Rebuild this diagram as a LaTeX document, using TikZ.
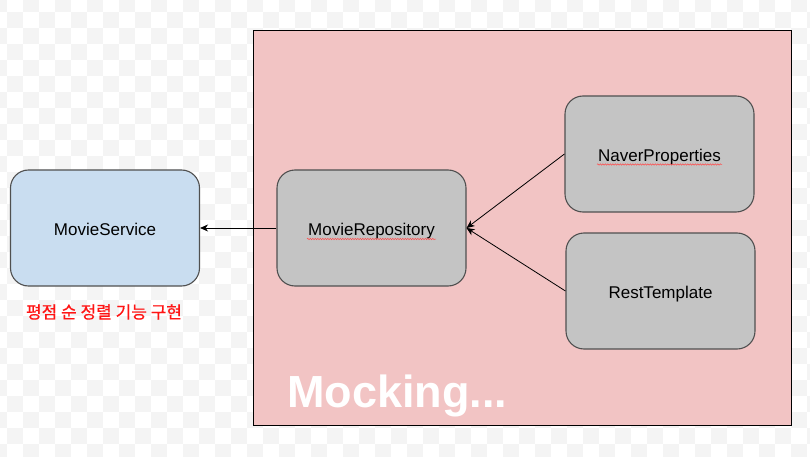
\documentclass[tikz,border=0pt]{standalone}
\usepackage{fontspec}
\setmainfont{Liberation Sans}
\newfontfamily\krfont[FakeBold=0.6]{Noto Sans CJK KR}
\usetikzlibrary{arrows.meta,decorations.pathmorphing,calc}
\definecolor{checkgray}{RGB}{244,244,244}
\definecolor{mockpink}{RGB}{242,196,196}
\definecolor{svcblue}{RGB}{201,221,240}
\definecolor{boxgray}{RGB}{196,196,196}
\definecolor{boxborder}{RGB}{80,80,80}
\definecolor{krred}{RGB}{255,20,20}
\tikzset{
  cls/.style={draw=boxborder, line width=1.1pt, rounded corners=18pt,
    minimum width=189pt, minimum height=116pt, inner sep=0pt,
    text height=14pt, text depth=0pt,
    font=\fontsize{17}{20}\selectfont},
  dep/.style={draw=black, line width=0.8pt, -{Stealth[length=8pt,width=7pt,inset=2.5pt]}},
  squig/.style={draw=red!70, line width=0.5pt, decorate,
    decoration={snake, segment length=2.5pt, amplitude=0.7pt}}
}
\begin{document}
\begin{tikzpicture}[x=1pt,y=-1pt]
\useasboundingbox (0,0) rectangle (810,457);
\begin{scope}
\clip (0,0) rectangle (810,457);
\fill[white] (0,0) rectangle (810,457);
\foreach \r in {0,...,29} {
  \pgfmathtruncatemacro\off{mod(\r,2)}
  \foreach \c in {0,...,26} {
    \fill[checkgray] ({-9+32*\c+16*\off},{-4+16*\r}) rectangle +(16,16);
  }
}
\end{scope}
\node[draw=black, line width=0.9pt, fill=mockpink, minimum width=538pt, minimum height=395pt, inner sep=0pt] (mock) at (522,227.5) {};
\node[anchor=base west, text=white, font=\bfseries\fontsize{45}{50}\selectfont, inner sep=0pt] (mocktext) at (287,407) {Mocking...};
\node[cls, fill=svcblue] (svc) at (105,228) {MovieService};
\node[cls, fill=boxgray] (repo) at (371.5,228) {MovieRepository};
\node[cls, fill=boxgray] (naver) at (659.5,154) {NaverProperties};
\node[cls, fill=boxgray] (rest) at (660.5,291) {RestTemplate};
\node[text=krred, font=\krfont\fontsize{17}{19}\selectfont, inner sep=0pt] (note) at (104,312) {평점 순 정렬 기능 구현};
\draw[squig] ($(repo.center)+(-64.5,11)$) -- ($(repo.center)+(64.5,11)$);
\draw[squig] ($(naver.center)+(-62.5,10.5)$) -- ($(naver.center)+(62.5,10.5)$);
\draw[dep] (repo.west) -- (svc.east);
\draw[dep] (naver.west) -- (repo.east);
\draw[dep] (rest.west) -- (repo.east);
\end{tikzpicture}
\end{document}
